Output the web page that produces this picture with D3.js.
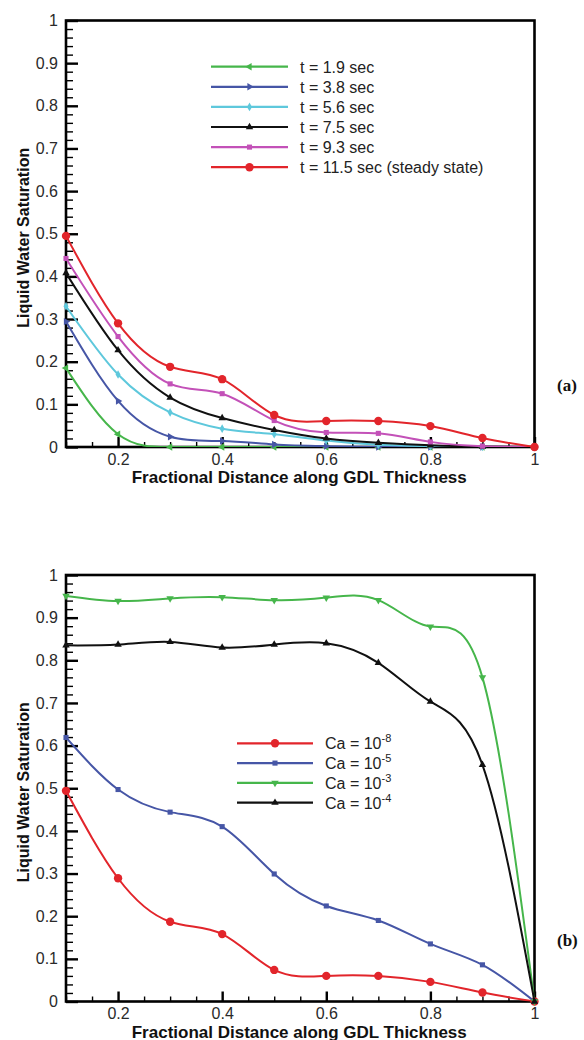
<!DOCTYPE html>
<html>
<head>
<meta charset="utf-8">
<script src="https://cdn.jsdelivr.net/npm/d3@7"></script>
<style>
	body{margin:0;background:#fff;}
	text{font-family:"Liberation Sans",Arial,sans-serif;}
</style>
</head>
<body>
<div id="fig-box"></div>
<script>
// Fractional distance along the GDL (same for every curve)
const xFrac=[0.1,0.2,0.3,0.4,0.5,0.6,0.7,0.8,0.9,1.0];

// Panel (a): transient saturation profiles
const timeLabels=["t = 1.9 sec","t = 3.8 sec","t = 5.6 sec","t = 7.5 sec","t = 9.3 sec","t = 11.5 sec (steady state)"];
const satT19=[0.185,0.03,0,0,0,0,0,0,0,0];
const satT38=[0.294,0.108,0.024,0.014,0.006,0.002,0,0,0,0];
const satT56=[0.33,0.17,0.081,0.043,0.03,0.015,0.005,0.002,0,0];
const satT75=[0.408,0.227,0.116,0.068,0.04,0.02,0.01,0.004,0.001,0];
const satT93=[0.442,0.259,0.148,0.125,0.062,0.034,0.032,0.012,0.002,0];
const satT115=[0.495,0.29,0.188,0.159,0.075,0.061,0.061,0.049,0.021,0];

// Panel (b): steady profiles for several capillary numbers
const caBase="Ca = 10";
const caExponents=["-8","-5","-3","-4"];
const satCa8=[0.494,0.289,0.187,0.158,0.074,0.06,0.06,0.046,0.021,0];
const satCa5=[0.619,0.497,0.444,0.41,0.299,0.224,0.19,0.135,0.086,0];
const satCa3=[0.951,0.939,0.945,0.948,0.941,0.947,0.941,0.879,0.76,0];
const satCa4=[0.835,0.837,0.843,0.83,0.837,0.84,0.794,0.703,0.555,0];

// Tick values
const xMajorTicks=[0.2,0.4,0.6,0.8,1];
const xMinorTicks=[0.1,0.15,0.25,0.3,0.35,0.45,0.5,0.55,0.65,0.7,0.75,0.85,0.9,0.95];
const yMajorTicks=[0,0.1,0.2,0.3,0.4,0.5,0.6,0.7,0.8,0.9,1];

const GREEN="#46b64b", BLUE="#4656a6", CYAN="#5ec8dc", BLACK="#111", MAGENTA="#c351b8", RED="#e2252b";

const figure=
{
	w:584,
	h:1040,
	draw: function ()
	{
		const svg=d3.select("#fig-box")
		.append("svg")
		.attr("width",this.w)
		.attr("height",this.h)
		.style("background","#fff");

		this.plotPanel(svg,
		{
			top:20.5, bottom:447, tag:"(a)", tagY:391,
			series:[
				{vals:satT19,color:GREEN,sym:"left"},
				{vals:satT38,color:BLUE,sym:"right"},
				{vals:satT56,color:CYAN,sym:"diamond"},
				{vals:satT75,color:BLACK,sym:"up"},
				{vals:satT93,color:MAGENTA,sym:"square"},
				{vals:satT115,color:RED,sym:"circle"}
			],
			legend:{x1:211,x2:288,tx:300,y0:66.7,dy:20.1,labels:timeLabels}
		});

		this.plotPanel(svg,
		{
			top:575, bottom:1001.5, tag:"(b)", tagY:946,
			series:[
				{vals:satCa8,color:RED,sym:"circle"},
				{vals:satCa5,color:BLUE,sym:"square"},
				{vals:satCa3,color:GREEN,sym:"down"},
				{vals:satCa4,color:BLACK,sym:"up"}
			],
			legend:{x1:237,x2:313,tx:325,y0:743.3,dy:19.8,sup:caExponents}
		});
	},
	marker: function (g,kind,color)
	{
		const types={circle:d3.symbolCircle,square:d3.symbolSquare,diamond:d3.symbolDiamond};
		const sizes={circle:55,square:26,diamond:22};
		let path, rot=0;
		if (types[kind])
		{
			path=d3.symbol(types[kind],sizes[kind])();
		}
		else
		{
			path=d3.symbol(d3.symbolTriangle,24)();
			rot={up:0,down:180,left:-90,right:90}[kind];
		}
		return g.append("path")
		.attr("d",path)
		.attr("fill",color)
		.attr("data-rot",rot);
	},
	plotPanel: function (svg,cfg)
	{
		const left=66, right=534.5;
		const xScale=d3.scaleLinear().domain([0.1,1]).range([left,right]);
		const yScale=d3.scaleLinear().domain([0,1]).range([cfg.bottom,cfg.top]);
		const g=svg.append("g");
		const labelStyle=a=>a.selectAll("text").attr("font-size",16).attr("fill","#2a2a2a").style("font-family","Liberation Sans, Arial, sans-serif");

		const clipId="clip"+Math.round(cfg.top);
		g.append("clipPath").attr("id",clipId)
		.append("rect")
		.attr("x",left).attr("y",cfg.top)
		.attr("width",right-left).attr("height",cfg.bottom-cfg.top);

		// Minor ticks first, then major ticks with labels
		g.append("g")
		 .attr("class","minor")
		 .attr("transform","translate(0,"+cfg.bottom+")")
		 .call(d3.axisBottom(xScale).tickValues(xMinorTicks).tickSize(-5).tickSizeOuter(0).tickFormat(""))
		 .call(a=>a.select(".domain").remove());
		g.append("g")
		 .attr("class","major")
		 .attr("transform","translate(0,"+cfg.bottom+")")
		 .call(d3.axisBottom(xScale).tickValues(xMajorTicks).tickSize(-10).tickSizeOuter(0).tickPadding(6.5).tickFormat(d3.format("")))
		 .call(a=>a.select(".domain").remove())
		 .call(labelStyle);

		const yMinor=d3.range(0.02,1,0.02).filter(v=>Math.abs(v*10-Math.round(v*10))>0.01);
		g.append("g")
		 .attr("class","minor")
		 .attr("transform","translate("+left+",0)")
		 .call(d3.axisLeft(yScale).tickValues(yMinor).tickSize(-7).tickSizeOuter(0).tickFormat(""))
		 .call(a=>a.select(".domain").remove());
		g.append("g")
		 .attr("class","major")
		 .attr("transform","translate("+left+",0)")
		 .call(d3.axisLeft(yScale).tickValues(yMajorTicks).tickSize(-12).tickSizeOuter(0).tickPadding(8).tickFormat(d3.format("")))
		 .call(a=>a.select(".domain").remove())
		 .call(labelStyle);
		g.selectAll(".minor .tick line").attr("stroke","#000").attr("stroke-width",1.4);
		g.selectAll(".major .tick line").attr("stroke","#000").attr("stroke-width",2.4);

		// Frame
		g.append("rect")
		 .attr("x",left).attr("y",cfg.top)
		 .attr("width",right-left).attr("height",cfg.bottom-cfg.top)
		 .attr("fill","none").attr("stroke","#000").attr("stroke-width",2.6);

		// Curves
		const line=d3.line()
		 .x((d,i)=>xScale(xFrac[i]))
		 .y(d=>yScale(d))
		 .curve(d3.curveNatural);
		cfg.series.forEach(s=>
		{
			g.append("path")
			 .attr("d",line(s.vals))
			 .attr("clip-path","url(#"+clipId+")")
			 .attr("fill","none")
			 .attr("stroke",s.color)
			 .attr("stroke-width",2);
			s.vals.forEach((v,i)=>
			{
				const m=this.marker(g,s.sym,s.color);
				m.attr("transform","translate("+xScale(xFrac[i])+","+yScale(v)+") rotate("+m.attr("data-rot")+")");
			});
		});

		// Legend
		const lg=cfg.legend;
		cfg.series.forEach((s,i)=>
		{
			const y=lg.y0+i*lg.dy;
			g.append("line")
			 .attr("x1",lg.x1).attr("x2",lg.x2)
			 .attr("y1",y).attr("y2",y)
			 .attr("stroke",s.color).attr("stroke-width",2.2);
			const m=this.marker(g,s.sym,s.color);
			m.attr("transform","translate("+((lg.x1+lg.x2)/2)+","+y+") rotate("+m.attr("data-rot")+")");
			const t=g.append("text")
			 .attr("x",lg.tx).attr("y",y+5.8)
			 .attr("font-size",16).attr("fill","#222");
			if (lg.labels)
			{
				t.text(lg.labels[i]);
			}
			else
			{
				t.append("tspan").text(caBase);
				t.append("tspan").attr("dy",-7).attr("font-size",11).text(lg.sup[i]);
			}
		});

		// Axis titles
		g.append("text")
		 .attr("x",(left+right)/2-1).attr("y",cfg.bottom+36)
		 .attr("text-anchor","middle")
		 .attr("font-size",17).attr("font-weight","bold").attr("fill","#111")
		 .text("Fractional Distance along GDL Thickness");
		g.append("text")
		 .attr("transform","translate(29,"+((cfg.top+cfg.bottom)/2+4)+") rotate(-90)")
		 .attr("text-anchor","middle")
		 .attr("font-size",16).attr("font-weight","bold").attr("fill","#111")
		 .text("Liquid Water Saturation");
		g.append("text")
		 .attr("x",557).attr("y",cfg.tagY)
		 .attr("font-size",17).attr("font-weight","bold").attr("fill","#111")
		 .style("font-family","Liberation Serif, Times New Roman, serif")
		 .text(cfg.tag);
	}
};

document.addEventListener("DOMContentLoaded",function ()
{
	figure.draw();
});
</script>
</body>
</html>
